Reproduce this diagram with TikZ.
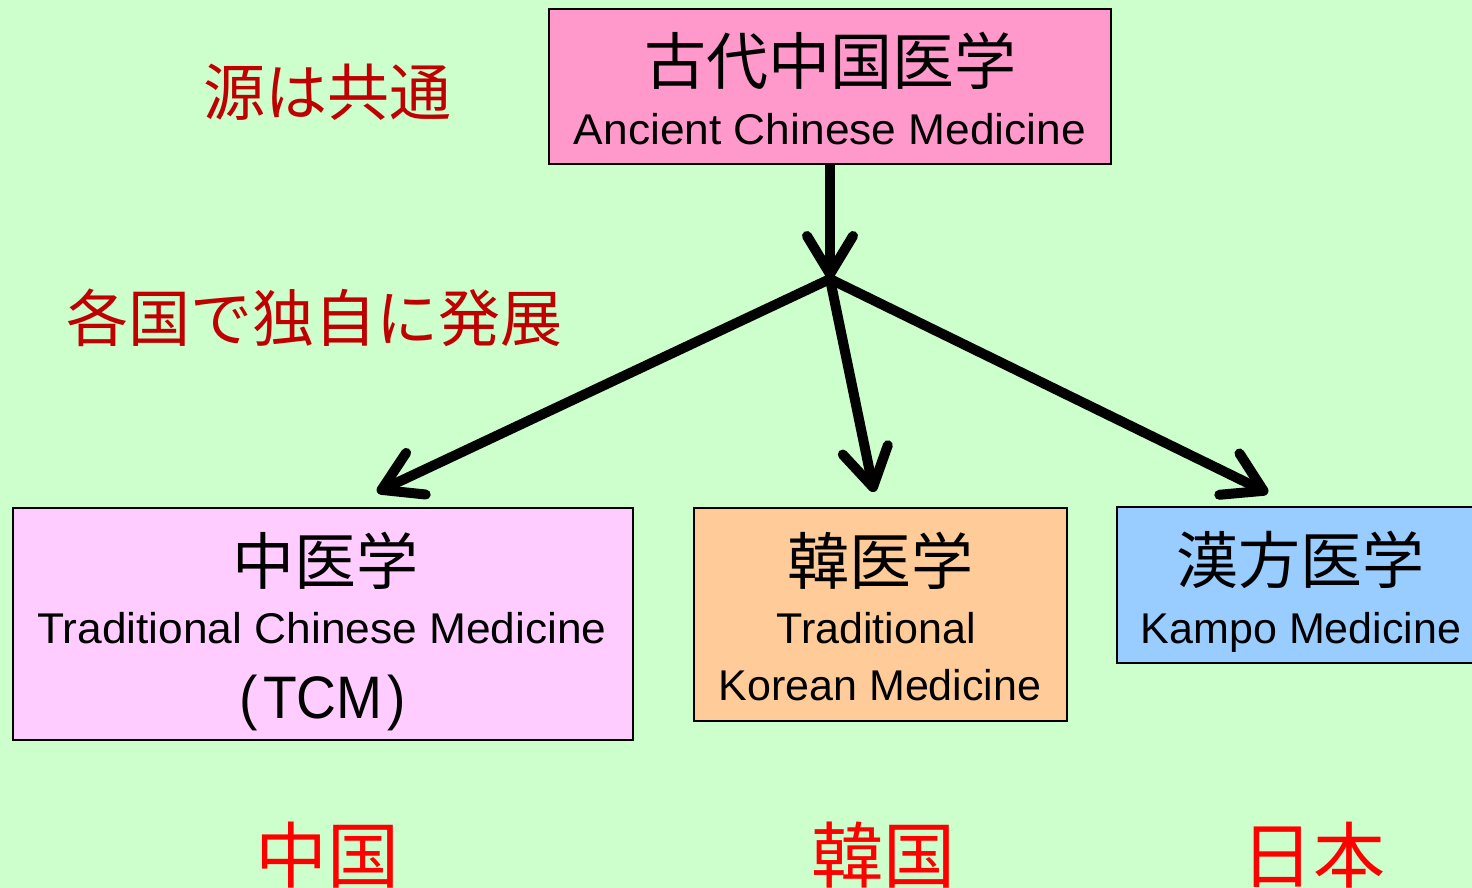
\documentclass[tikz,border=0pt]{standalone}
\usepackage{fontspec}
\usetikzlibrary{arrows.meta}
\newfontfamily\jp{Noto Sans CJK JP}
\newfontfamily\lat{Liberation Sans}
\newfontfamily\latwide[FakeStretch=1.03]{Liberation Sans}
\newfontfamily\latnarrow[FakeStretch=0.92]{Liberation Sans}
\definecolor{bg}{HTML}{CCFFCC}
\definecolor{ancient}{HTML}{FF99CC}
\definecolor{tcmfill}{HTML}{FFCCFF}
\definecolor{korfill}{HTML}{FFCC99}
\definecolor{kampofill}{HTML}{99CCFF}
\definecolor{darkred}{HTML}{C00000}
\definecolor{brightred}{HTML}{FF0000}
\tikzset{
  box/.style={draw=black, line width=1.5pt, rectangle, inner sep=0pt},
  jtitle/.style={font=\jp\fontsize{62}{62}\selectfont, inner sep=0pt},
  ltext/.style={font=\lat\fontsize{43}{43}\selectfont, inner sep=0pt, anchor=base},
  lwide/.style={ltext, font=\latwide\fontsize{43}{43}\selectfont},
  note/.style={font=\jp\fontsize{62}{62}\selectfont, text=darkred, inner sep=0pt},
  country/.style={font=\jp\fontsize{72}{72}\selectfont, text=brightred, inner sep=0pt, anchor=north},
  flow/.style={line width=10pt, -{Straight Barb[length=38pt, width=46pt, round]}}
}
\begin{document}
\begin{tikzpicture}[x=1pt, y=-1pt]
  % canvas
  \clip (0,0) rectangle (1472,888);
  \fill[bg] (0,0) rectangle (1472,888);

  % source box
  \node[box, fill=ancient, minimum width=562pt, minimum height=155pt] (top) at (830,86.5) {};
  \node[jtitle] (toptitle) at (830,61) {古代中国医学};
  \node[lwide] (topsub) at (830,144) {Ancient Chinese Medicine};

  % three branches
  \node[box, fill=tcmfill, minimum width=620pt, minimum height=232pt] (tcm) at (323,624) {};
  \node[jtitle] (tcmtitle) at (325,561) {中医学};
  \node[lwide] (tcmsub) at (322,643) {Traditional Chinese Medicine};
  \node[ltext, font=\latnarrow\fontsize{60}{60}\selectfont] (tcmabbr) at (323,718) {(\kern5pt TCM\kern5pt)};

  \node[box, fill=korfill, minimum width=373pt, minimum height=213pt] (kor) at (880.5,614.5) {};
  \node[jtitle] (kortitle) at (880,561) {韓医学};
  \node[ltext] (korsub1) at (876,643) {Traditional};
  \node[ltext] (korsub2) at (880,700) {Korean Medicine};

  \node[box, fill=kampofill, minimum width=363pt, minimum height=156pt] (kampo) at (1298.5,585) {};
  \node[jtitle] (kampotitle) at (1300,560) {漢方医学};
  \node[ltext] (kamposub) at (1301,643) {Kampo Medicine};

  % side notes
  \node[note] (common) at (327,92) {源は共通};
  \node[note] (develop) at (314,318) {各国で独自に発展};

  % country names, running off the lower edge
  \node[country] (cn) at (327,822) {中国};
  \node[country] (kr) at (883,822) {韓国};
  \node[country] (jp) at (1313,822) {日本};

  % connectors
  \coordinate (hub) at (830,279);
  \coordinate (tcmtip) at (377,492);
  \coordinate (kortip) at (874,492);
  \coordinate (kampotip) at (1268,493);
  \draw[flow] (top.south) -- (hub);
  \draw[flow] (hub) -- (tcmtip);
  \draw[flow] (hub) -- (kortip);
  \draw[flow] (hub) -- (kampotip);
\end{tikzpicture}
\end{document}
